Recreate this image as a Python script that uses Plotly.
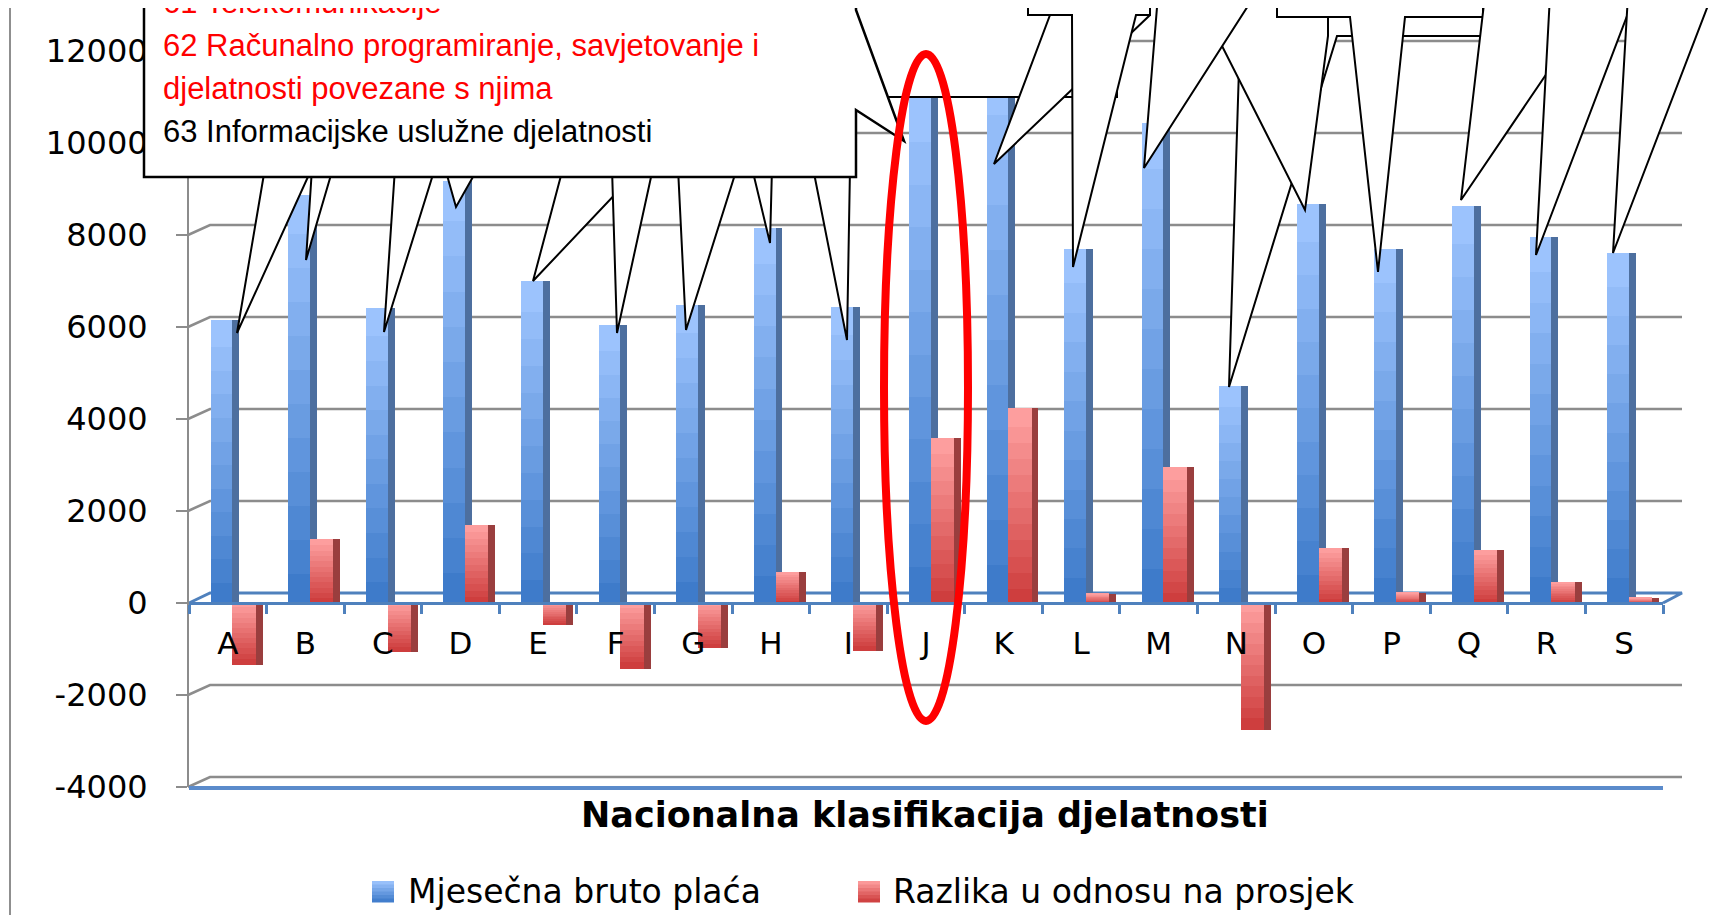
import plotly.graph_objects as go

# ---------------- data ----------------
categories = ["A", "B", "C", "D", "E", "F", "G", "H", "I", "J",
              "K", "L", "M", "N", "O", "P", "Q", "R", "S"]
bruto = [6150, 8880, 6410, 9180, 6990, 6050, 6485, 8160, 6440, 11080,
         11730, 7690, 10440, 4710, 8680, 7700, 8630, 7950, 7600]
razlika = [-1340, 1390, -1060, 1700, -480, -1430, -980, 680, -1045, 3590,
           4240, 200, 2950, -2770, 1200, 220, 1150, 460, 110]
y_tickvals = [-4000, -2000, 0, 2000, 4000, 6000, 8000, 10000, 12000]
y_ticktext = ["-4000", "-2000", "0", "2000", "4000", "6000", "8000", "10000", "12000"]
series_names = ["Mjesečna bruto plaća", "Razlika u odnosu na prosjek"]
x_title = "Nacionalna klasifikacija djelatnosti"
callout_lines = ["61 Telekomunikacije",
                 "62 Računalno programiranje, savjetovanje i",
                 "djelatnosti povezane s njima",
                 "63 Informacijske uslužne djelatnosti"]
callout_colors = ["#FF0000", "#FF0000", "#FF0000", "#000000"]

# ---------------- geometry ----------------
# the page body adds an 8px margin, so the figure is offset by OFF
OFF = 8
W, H = 1721, 907
L, R, T, B = 181, 66, 43, 128
PW, PH = W - L - R, H - T - B
YMIN, YMAX = -4000, 12000


def px(x):
    """reference-page x pixel -> paper"""
    return (x - OFF - L) / PW


def py(y):
    """reference-page y pixel -> paper"""
    return (H - B - (y - OFF)) / PH


def ypix(v):
    """value -> reference-page y pixel"""
    return T + OFF + (YMAX - v) / (YMAX - YMIN) * PH


def path(points, close=True):
    s = "M " + " L ".join(f"{px(x):.5f},{py(y):.5f}" for x, y in points)
    return s + (" Z" if close else "")


def lerp(c1, c2, t):
    return "rgb(%d,%d,%d)" % tuple(round(a + (b - a) * t) for a, b in zip(c1, c2))


BLUE_LIGHT, BLUE_DARK = (160, 198, 255), (58, 120, 200)
RED_LIGHT, RED_DARK = (255, 162, 162), (204, 58, 58)
BLUE_SIDE, RED_SIDE = "#4D6F9F", "#9A3E3E"
AXIS_BLUE = "#4F81BD"
GRID = "#8C8C8C"
FONT = "DejaVu Sans"

fig = go.Figure()

N_BANDS = 12
OV = 0.15


def add_series(values, name, off_front, w_front, off_side, w_side, light, dark, side_col):
    fig.add_trace(go.Bar(x=categories, y=values, offset=off_side, width=w_side, name=name,
                         marker=dict(color=side_col, line=dict(width=0)),
                         showlegend=False, hoverinfo="skip"))
    for k in range(N_BANDS):
        bases, heights, cols = [], [], []
        for v in values:
            if k == 0:
                bases.append(0)
                heights.append(v / N_BANDS)
            else:
                bases.append(v * (k - OV) / N_BANDS)
                heights.append(v * (1 + OV) / N_BANDS)
            frac_top = (1 - (k + 0.5) / N_BANDS) if v >= 0 else (k + 0.5) / N_BANDS
            cols.append(lerp(light, dark, frac_top))
        fig.add_trace(go.Bar(x=categories, y=heights, base=bases, offset=off_front,
                             width=w_front, name=name,
                             marker=dict(color=cols, line=dict(width=0)),
                             showlegend=False, hoverinfo="skip"))


add_series(bruto, series_names[0], -0.22, 0.28, 0.06, 0.09, BLUE_LIGHT, BLUE_DARK, BLUE_SIDE)
add_series(razlika, series_names[1], 0.06, 0.30, 0.36, 0.09, RED_LIGHT, RED_DARK, RED_SIDE)

shapes = []
# chart frame
shapes.append(dict(type="rect", xref="paper", yref="paper", x0=px(10), x1=px(1724),
                   y0=py(6), y1=py(940), line=dict(color="#8F8F8F", width=2), layer="below"))
# 3D back-wall gridlines
for v in y_tickvals:
    y = ypix(v)
    if v == 0:
        continue
    shapes.append(dict(type="path", xref="paper", yref="paper", layer="below",
                       path=path([(188, y), (210, y - 10), (1682, y - 10)], close=False),
                       line=dict(color=GRID, width=2.5)))
# floor at zero
y0 = ypix(0)
shapes.append(dict(type="path", xref="paper", yref="paper", layer="below",
                   path=path([(189, y0), (210, y0 - 10), (1682, y0 - 10), (1663, y0)], close=False),
                   line=dict(color=AXIS_BLUE, width=3)))
# bottom front edge
yb = ypix(YMIN)
shapes.append(dict(type="line", xref="paper", yref="paper", layer="below",
                   x0=px(189), x1=px(1663), y0=py(yb + 1), y1=py(yb + 1),
                   line=dict(color="#5B8BCB", width=4)))


# ------------- callouts (decoration) -------------
def callout(points, width=2):
    shapes.append(dict(type="path", xref="paper", yref="paper", layer="above",
                       path=path(points), fillcolor="white",
                       line=dict(color="black", width=width)))


wedges_main = [((265, 312), (237, 333)), ((312, 333), (306, 260)), ((395, 435), (384, 332)),
               ((445, 478), (456, 207)), ((563, 640), (533, 281)), ((612, 653), (617, 333)),
               ((678, 737), (686, 330)), ((752, 772), (770, 243)), ((813, 850), (847, 340))]
for (b0, b1), tip in wedges_main:
    callout([(b0, 168), tip, (b1, 168)])
callout([(780, -60), (1117, -60), (1117, 97), (780, 97)])
callout([(144, -60), (856, -60), (856, 10), (904, 141), (856, 110), (856, 177), (144, 177)], 2.5)
callout([(940, -60), (1028, -60), (1028, 1), (940, 1)])
callout([(1028, -60), (1150, -60), (1150, 15), (994, 164), (1050, 15), (1028, 15)])
callout([(1028, -60), (1150, -60), (1150, 15), (1136, 15), (1073, 267), (1072, 15), (1028, 15)])
callout([(1230, -60), (1483, -60), (1483, 36), (1337, 36), (1229, 387), (1240, 36), (1230, 36)])
callout([(1160, -60), (1328, -60), (1328, 36), (1305, 210), (1217, 36), (1160, 36)])
callout([(1158, -5), (1144, 168), (1255, -5)])
callout([(1277, -60), (1483, -60), (1483, 17), (1405, 17), (1378, 272), (1350, 17), (1277, 17)])
callout([(1485, -5), (1461, 200), (1600, -5)])
callout([(1550, -5), (1536, 255), (1635, -5)])
callout([(1628, -5), (1613, 253), (1712, -5)])

# red ellipse around J
shapes.append(dict(type="circle", xref="paper", yref="paper", layer="above",
                   x0=px(884), x1=px(968), y0=py(721), y1=py(54),
                   line=dict(color="#FF0000", width=8)))

# manual legend squares (gradient bands)
legend_items = [(372, series_names[0], BLUE_LIGHT, BLUE_DARK, 406),
                (858, series_names[1], RED_LIGHT, RED_DARK, 891)]
SQ_TOP, SQ_BOT, NB = 881, 902, 6
for x0, _, light, dark, _ in legend_items:
    for k in range(NB):
        ya = SQ_TOP + (SQ_BOT - SQ_TOP) * k / NB
        yb2 = SQ_TOP + (SQ_BOT - SQ_TOP) * (k + 1) / NB + 0.5
        shapes.append(dict(type="rect", xref="paper", yref="paper", layer="above",
                           x0=px(x0), x1=px(x0 + 22), y0=py(yb2), y1=py(ya),
                           fillcolor=lerp(light, dark, (k + 0.5) / NB), line=dict(width=0)))

annotations = []
for i, (txt, col) in enumerate(zip(callout_lines, callout_colors)):
    annotations.append(dict(xref="paper", yref="paper", x=px(161), y=py(3 + 43 * i),
                            xanchor="left", yanchor="middle", showarrow=False, text=txt,
                            font=dict(family="Liberation Sans", size=31, color=col)))
annotations.append(dict(xref="paper", yref="paper", x=px(925), y=py(815), xanchor="center",
                        yanchor="middle", showarrow=False, text=x_title,
                        font=dict(family=FONT, size=35, color="black", weight="bold")))
for _, name, _, _, tx in legend_items:
    annotations.append(dict(xref="paper", yref="paper", x=px(tx), y=py(891), xanchor="left",
                            yanchor="middle", showarrow=False, text=name,
                            font=dict(family=FONT, size=33, color="black")))

fig.update_layout(
    width=W, height=H,
    margin=dict(l=L, r=R, t=T, b=B, autoexpand=False),
    paper_bgcolor="white", plot_bgcolor="rgba(0,0,0,0)",
    barmode="overlay", bargap=0,
    showlegend=False,
    xaxis=dict(type="category", categoryorder="array", categoryarray=categories,
               range=[-0.5, len(categories) - 0.5], anchor="free",
               position=(0 - YMIN) / (YMAX - YMIN),
               showline=True, linecolor=AXIS_BLUE, linewidth=3,
               ticks="outside", tickson="boundaries", ticklen=9, tickwidth=3,
               tickcolor=AXIS_BLUE, showgrid=False, zeroline=False,
               tickfont=dict(family=FONT, size=31, color="black"), ticklabelstandoff=12),
    yaxis=dict(range=[YMIN, YMAX], tickvals=y_tickvals, ticktext=y_ticktext,
               showline=True, linecolor=GRID, linewidth=2, ticks="outside",
               ticklen=11, tickwidth=2, tickcolor=GRID, showgrid=False, zeroline=False,
               tickfont=dict(family=FONT, size=32, color="black"), ticklabelstandoff=22),
    shapes=shapes, annotations=annotations, hovermode=False,
)

fig.write_html("out.html")
